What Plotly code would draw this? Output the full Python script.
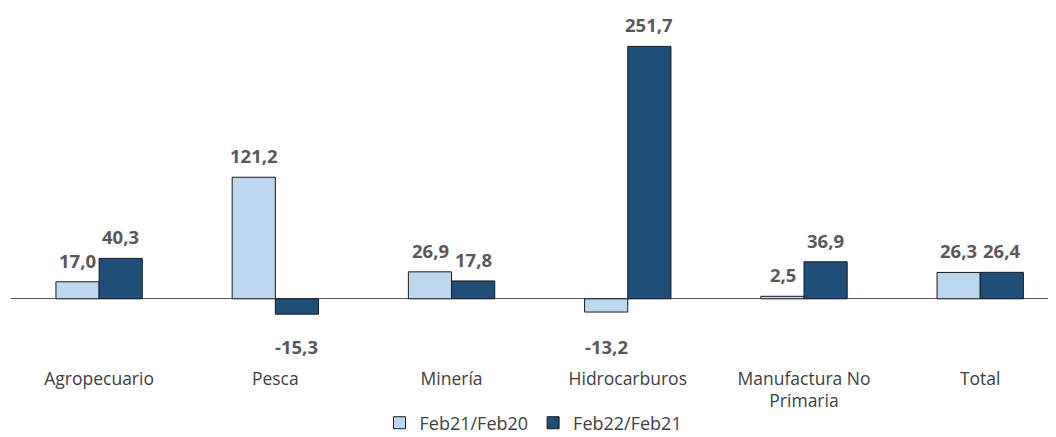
import plotly.graph_objects as go

categories = ["Agropecuario", "Pesca", "Minería", "Hidrocarburos",
              "Manufactura No<br>Primaria", "Total"]
feb21_feb20 = [17.0, 121.2, 26.9, -13.2, 2.5, 26.3]
feb22_feb21 = [40.3, -15.3, 17.8, 251.7, 36.9, 26.4]

light = "#BDD7EE"
dark = "#1F4E79"
label_color = "#595959"
font_family = "'Open Sans', 'Noto Sans', sans-serif"


def fmt(v):
    return f"{v:.1f}".replace(".", ",")


fig = go.Figure()
fig.add_trace(go.Bar(x=categories, y=feb21_feb20, name="Feb21/Feb20",
                     marker=dict(color=light, line=dict(color="#1a1a1a", width=1))))
fig.add_trace(go.Bar(x=categories, y=feb22_feb21, name="Feb22/Feb21",
                     marker=dict(color=dark, line=dict(color="#1a1a1a", width=1))))

# data labels, shifted onto each bar of the group
label_font = dict(size=18.5, color=label_color, family=font_family, weight="bold")
annotations = []
for series, shift in ((feb21_feb20, -21.5), (feb22_feb21, 21.5)):
    for cat, v in zip(categories, series):
        if v >= 0:
            annotations.append(dict(x=cat, y=v, xref="x", yref="y", text=fmt(v),
                                    showarrow=False, xshift=shift, yanchor="bottom", yshift=7,
                                    font=label_font))
        else:
            annotations.append(dict(x=cat, y=-30, xref="x", yref="y", text=fmt(v),
                                    showarrow=False, xshift=shift, yanchor="top", yshift=-3,
                                    font=label_font))

fig.update_layout(
    width=1056, height=437,
    margin=dict(l=3, r=8, t=12, b=80),
    barmode="group", bargap=0.51, bargroupgap=0,
    plot_bgcolor="white", paper_bgcolor="white",
    font=dict(family=font_family, size=16, color="#404040"),
    showlegend=True,
    legend=dict(orientation="h", x=0.5, xanchor="center", y=-0.175, yanchor="middle",
                font=dict(size=18, color="#404040"), traceorder="normal"),
    annotations=annotations,
)
fig.update_xaxes(range=[-0.5, 5.43], showline=False, ticks="", showgrid=False,
                 ticklabelstandoff=3, tickfont=dict(size=17.5, color="#404040"))
fig.update_yaxes(range=[-64, 278], showticklabels=False, showgrid=False,
                 zeroline=True, zerolinecolor="#595959", zerolinewidth=1)

fig.write_html("out.html")
